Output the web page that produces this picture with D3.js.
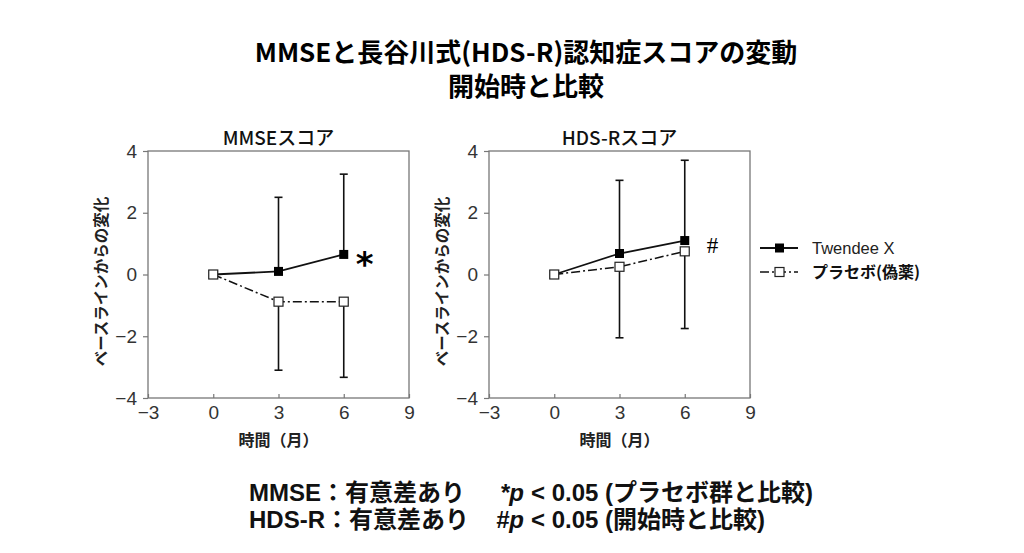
<!doctype html>
<html>
<head>
<meta charset="utf-8">
<script src="https://cdn.jsdelivr.net/npm/d3@7"></script>
<style>
  body { margin: 0; background: #fff; }
  svg { display: block; }
  .tick text { font-family: 'Liberation Sans', Arial, sans-serif; font-size: 19px; fill: #333; }
  .tick line { stroke: #777; stroke-width: 1.2; }
  .domain { stroke: none; }
  .jp { font-family: 'Noto Sans CJK JP', sans-serif; }
  .foot { font-family: 'Liberation Sans', 'Noto Sans CJK JP', sans-serif; font-size: 24px; font-weight: 700; fill: #111; }
</style>
</head>
<body>
<svg id="chart"></svg>
<script>
// data
const months = [0, 3, 6]
const mmseTwendee = [0, 0.1, 0.65]
const mmseTwendeeErr = [0, 2.4, 2.6]
const mmsePlacebo = [0, -0.88, -0.88]
const mmsePlaceboErr = [0, 2.22, 2.45]
const hdsTwendee = [0, 0.68, 1.1]
const hdsTwendeeErr = [0, 2.37, 2.6]
const hdsPlacebo = [0, 0.25, 0.75]
const hdsPlaceboErr = [0, 2.3, 2.5]
const xTicks = [-3, 0, 3, 6, 9]
const yTicks = [-4, -2, 0, 2, 4]
const seriesNames = ["Twendee X", "プラセボ(偽薬)"]

const W = 1024, H = 553
const svg = d3.select("#chart").attr("width", W).attr("height", H)

const panelW = 261, panelH = 247, plotTop = 151

// titles
svg.append("text").attr("class", "jp")
  .attr("x", 526).attr("y", 62).attr("text-anchor", "middle")
  .attr("font-size", 26).attr("font-weight", 700)
  .text("MMSEと長谷川式(HDS-R)認知症スコアの変動")
svg.append("text").attr("class", "jp")
  .attr("x", 526).attr("y", 96).attr("text-anchor", "middle")
  .attr("font-size", 26).attr("font-weight", 700)
  .text("開始時と比較")

const fmt = d => d < 0 ? "−" + Math.abs(d) : d

function panel(x0, title, tw, twErr, pl, plErr) {
  const x = d3.scaleLinear().domain([-3, 9]).range([x0, x0 + panelW])
  const y = d3.scaleLinear().domain([-4, 4]).range([plotTop + panelH, plotTop])
  const g = svg.append("g")

  g.append("g").attr("transform", `translate(0,${y(-4)})`)
    .call(d3.axisBottom(x).tickValues(xTicks).tickSize(-4).tickPadding(8).tickFormat(fmt))
  g.append("g").attr("transform", `translate(${x(-3)},0)`)
    .call(d3.axisLeft(y).tickValues(yTicks).tickSize(5).tickPadding(6).tickFormat(fmt))

  g.append("rect")
    .attr("x", x(-3)).attr("y", y(4))
    .attr("width", x(9) - x(-3)).attr("height", y(-4) - y(4))
    .attr("fill", "none").attr("stroke", "#777").attr("stroke-width", 1.3)

  g.append("text").attr("class", "jp")
    .attr("x", (x(-3) + x(9)) / 2).attr("y", 145).attr("text-anchor", "middle")
    .attr("font-size", 19).attr("font-weight", 500).attr("fill", "#111")
    .text(title)
  g.append("text").attr("class", "jp")
    .attr("x", (x(-3) + x(9)) / 2).attr("y", 446).attr("text-anchor", "middle")
    .attr("font-size", 16).attr("font-weight", 700).attr("fill", "#222")
    .text("時間（月）")
  g.append("text").attr("class", "jp")
    .attr("transform", `translate(${x0 - 41},${y(0) + 7}) rotate(-90)`)
    .attr("text-anchor", "middle")
    .attr("font-size", 15.5).attr("font-weight", 700).attr("fill", "#222")
    .text("ベースラインからの変化")

  const line = d3.line().x(d => x(d[0])).y(d => y(d[1]))
  const twPts = months.map((m, i) => [m, tw[i]])
  const plPts = months.map((m, i) => [m, pl[i]])

  // error bars: Twendee upward, placebo downward
  const bars = [
    ...months.map((m, i) => ({ m, v: tw[i], e: tw[i] + twErr[i] })),
    ...months.map((m, i) => ({ m, v: pl[i], e: pl[i] - plErr[i] }))
  ].filter(d => d.e !== d.v)
  g.selectAll(".eb").data(bars).enter().append("line")
    .attr("x1", d => x(d.m)).attr("x2", d => x(d.m))
    .attr("y1", d => y(d.v)).attr("y2", d => y(d.e))
    .attr("stroke", "#111").attr("stroke-width", 1.6)
  g.selectAll(".cap").data(bars).enter().append("line")
    .attr("x1", d => x(d.m) - 4).attr("x2", d => x(d.m) + 4)
    .attr("y1", d => y(d.e)).attr("y2", d => y(d.e))
    .attr("stroke", "#111").attr("stroke-width", 1.6)

  g.append("path").datum(plPts).attr("d", line)
    .attr("fill", "none").attr("stroke", "#111").attr("stroke-width", 1.5)
    .attr("stroke-dasharray", "9,3,2,3")
  g.append("path").datum(twPts).attr("d", line)
    .attr("fill", "none").attr("stroke", "#111").attr("stroke-width", 1.8)

  g.selectAll(".tw").data(twPts).enter().append("rect")
    .attr("x", d => x(d[0]) - 4.5).attr("y", d => y(d[1]) - 4.5)
    .attr("width", 9).attr("height", 9).attr("fill", "#000")
  g.selectAll(".pl").data(plPts).enter().append("rect")
    .attr("x", d => x(d[0]) - 4.5).attr("y", d => y(d[1]) - 4.5)
    .attr("width", 9).attr("height", 9)
    .attr("fill", "#fff").attr("stroke", "#222").attr("stroke-width", 1.2)

  return { x, y, g }
}

const p1 = panel(148, "MMSEスコア", mmseTwendee, mmseTwendeeErr, mmsePlacebo, mmsePlaceboErr)
p1.g.append("text")
  .attr("x", p1.x(6) + 12).attr("y", p1.y(mmseTwendee[2]) + 22)
  .attr("font-family", "'DejaVu Sans', sans-serif").attr("font-size", 34).attr("font-weight", 700)
  .text("*")

const p2 = panel(489, "HDS-Rスコア", hdsTwendee, hdsTwendeeErr, hdsPlacebo, hdsPlaceboErr)
p2.g.append("text")
  .attr("x", p2.x(6) + 22).attr("y", p2.y(hdsTwendee[2]) + 12)
  .attr("font-family", "'Liberation Serif', serif").attr("font-size", 23)
  .text("#")

// legend
const lg = svg.append("g").attr("transform", "translate(760,248)")
lg.append("line").attr("x1", 0).attr("x2", 38).attr("y1", 0).attr("y2", 0)
  .attr("stroke", "#111").attr("stroke-width", 2)
lg.append("rect").attr("x", 15).attr("y", -4.5).attr("width", 9).attr("height", 9).attr("fill", "#000")
lg.append("text").attr("x", 52).attr("y", 6)
  .attr("font-family", "'Liberation Sans', Arial, sans-serif").attr("font-size", 16.5).attr("fill", "#222")
  .text(seriesNames[0])
lg.append("line").attr("x1", 0).attr("x2", 38).attr("y1", 24).attr("y2", 24)
  .attr("stroke", "#111").attr("stroke-width", 1.3).attr("stroke-dasharray", "9,3,2,3")
lg.append("rect").attr("x", 15).attr("y", 19.5).attr("width", 9).attr("height", 9)
  .attr("fill", "#fff").attr("stroke", "#222").attr("stroke-width", 1.2)
lg.append("text").attr("class", "jp").attr("x", 52).attr("y", 30)
  .attr("font-size", 16).attr("font-weight", 700).attr("fill", "#111")
  .text(seriesNames[1])

// footnotes
const foot = [
  ["MMSE：有意差あり", "*p", "< 0.05 (プラセボ群と比較)"],
  ["HDS-R：有意差あり", "#p", "< 0.05 (開始時と比較)"]
]
foot.forEach((f, i) => {
  const yy = 501 + i * 27
  const px = 500 - i * 4
  svg.append("text").attr("class", "foot").attr("x", 249).attr("y", yy)
    .text(f[0])
  const pt = svg.append("text").attr("class", "foot").attr("x", px).attr("y", yy)
    .attr("font-style", "italic")
    .text(f[1])
  const w = pt.node().getComputedTextLength()
  svg.append("text").attr("class", "foot").attr("x", px + w + 7).attr("y", yy)
    .text(f[2])
})
</script>
</body>
</html>
